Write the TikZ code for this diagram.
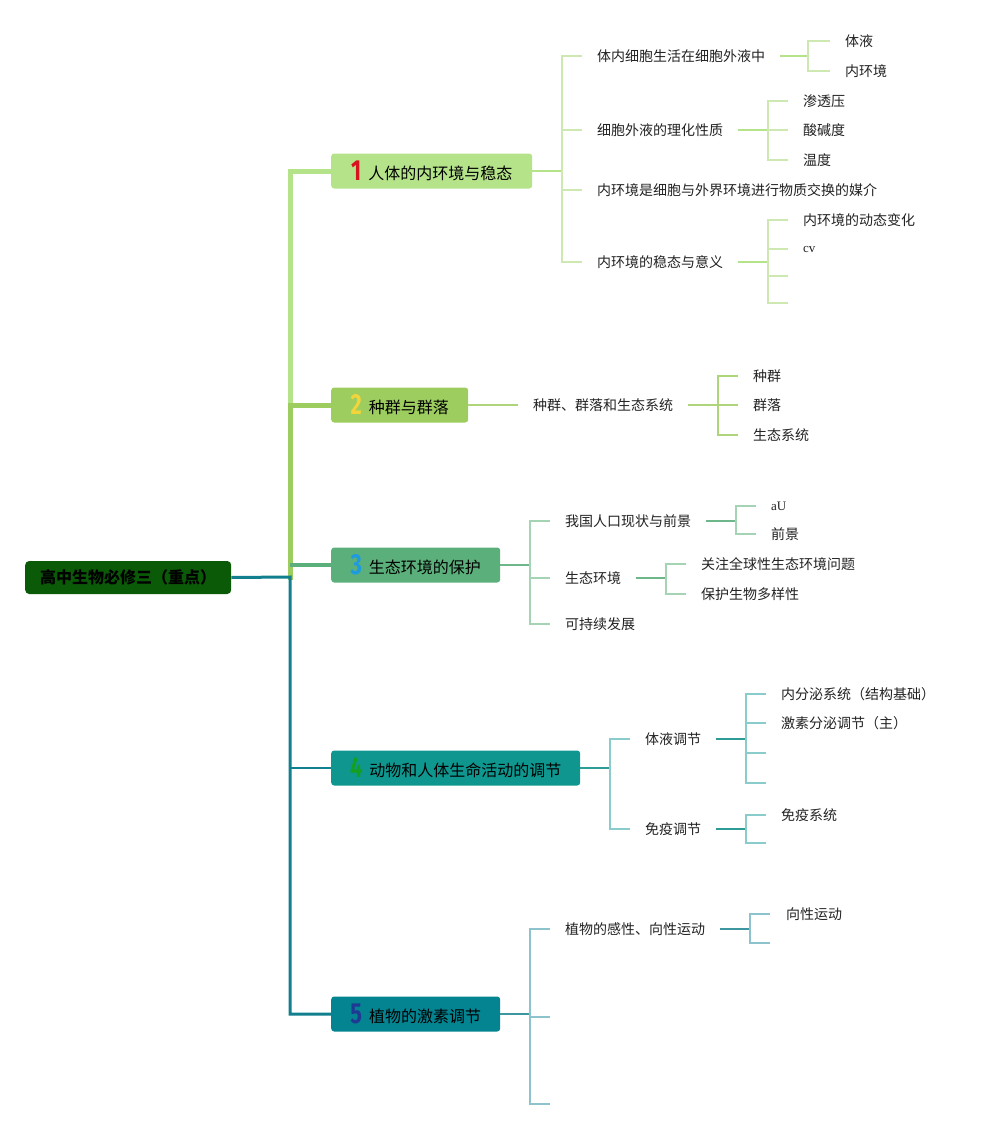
\documentclass[tikz,border=0pt]{standalone}
\usepackage{fontspec}
\setmainfont{Noto Sans CJK SC}
\newfontfamily\lser{Liberation Serif}
\newfontfamily\numfam{Fira Sans}
\definecolor{rootg}{HTML}{0B5A08}
\definecolor{ga}{HTML}{B5E389}
\definecolor{gal}{HTML}{CDE8B0}
\definecolor{gb}{HTML}{9DCC5F}
\definecolor{gbl}{HTML}{AED57A}
\definecolor{gc}{HTML}{5BAF7A}
\definecolor{gcl}{HTML}{A5D4B5}
\definecolor{gcd}{HTML}{6DB78A}
\definecolor{gd}{HTML}{0F978F}
\definecolor{gdl}{HTML}{8ACBCB}
\definecolor{gdd}{HTML}{2E9C96}
\definecolor{ge}{HTML}{048391}
\definecolor{gel}{HTML}{8CC3CC}
\definecolor{ged}{HTML}{3E97A0}
\definecolor{trunkt}{HTML}{117F8E}
\definecolor{n1}{HTML}{D7141E}
\definecolor{n2}{HTML}{F2D43B}
\definecolor{n3}{HTML}{1E9BE0}
\definecolor{n4}{HTML}{14A01E}
\definecolor{n5}{HTML}{1F3A93}
\definecolor{txt}{HTML}{222222}
\newcommand\bnum[2]{\raisebox{-1pt}{\scalebox{0.75}[1]{\numfam\bfseries\fontsize{29}{29}\selectfont\color{#1}#2}}\hspace{7pt}}
\begin{document}
\begin{tikzpicture}[x=1pt,y=-1pt,
  rootbox/.style={anchor=west, fill=rootg, rounded corners=4pt, minimum height=33pt, minimum width=206pt, inner sep=0pt, font=\fontsize{16}{18}\selectfont\bfseries, text=black},
  mainbox/.style={anchor=west, rounded corners=3pt, minimum height=35pt, inner sep=0pt, font=\fontsize{16}{18}\selectfont, text=black},
  ctext/.style={anchor=west, inner sep=0pt, font=\fontsize{14}{16}\selectfont, text=txt},
  stext/.style={anchor=west, inner sep=0pt, font=\lser\fontsize{13}{15}\selectfont, text=txt},
  la/.style={draw=gal, line width=1.5pt},
  lad/.style={draw=ga, line width=2pt},
  lb/.style={draw=gbl, line width=1.5pt},
  lc/.style={draw=gcl, line width=1.5pt},
  lcd/.style={draw=gcd, line width=2pt},
  ld/.style={draw=gdl, line width=1.5pt},
  ldd/.style={draw=gdd, line width=2pt},
  le/.style={draw=gel, line width=1.5pt},
  led/.style={draw=ged, line width=2pt}
]
\useasboundingbox (0,0) rectangle (995,1129);

% root and main boxes
\node[rootbox] (root) at (25,577.5) {高中生物必修三（重点）};
\node[mainbox, fill=ga, minimum width=201pt] (b1) at (331,171) {\bnum{n1}{1}人体的内环境与稳态};
\node[mainbox, fill=gb, minimum width=137pt] (b2) at (331,405) {\bnum{n2}{2}种群与群落};
\node[mainbox, fill=gc, minimum width=169pt] (b3) at (331,565) {\bnum{n3}{3}生态环境的保护};
\node[mainbox, fill=gd, minimum width=249pt] (b4) at (331,768) {\bnum{n4}{4}动物和人体生命活动的调节};
\node[mainbox, fill=ge, minimum width=169pt] (b5) at (331,1014) {\bnum{n5}{5}植物的激素调节};

% trunk
\coordinate (j1) at (290,171);
\coordinate (j2) at (290,405);
\coordinate (j3) at (290,565);
\coordinate (j0) at (290,577);
\coordinate (j4) at (290,768);
\coordinate (j5) at (290,1014);
\draw[draw=ga, line width=5pt] (b1.west) -- (j1) -- (j2);
\draw[draw=gb, line width=5pt] (b2.west) -- (j2) -- ([yshift=-3pt]j0);
\draw[draw=gc, line width=3.5pt] (b3.west) -- (j3);
\draw[draw=trunkt, line width=3pt] (root.east) -- (j0) -- (j5) -- (b5.west);
\draw[draw=trunkt, line width=2.5pt] (j4) -- (b4.west);

% ---------- branch 1
\node[ctext] (c11) at (597,56) {体内细胞生活在细胞外液中};
\node[ctext] (c12) at (597,130) {细胞外液的理化性质};
\node[ctext] (c13) at (597,190) {内环境是细胞与外界环境进行物质交换的媒介};
\node[ctext] (c14) at (597,262) {内环境的稳态与意义};
\coordinate (v1) at (562,171);
\draw[lad] (b1.east) -- (v1);
\foreach \c in {c11,c12,c13,c14} \draw[la] (v1) |- ([xshift=-15pt]\c.west);

\node[ctext] (d111) at (845,41) {体液};
\node[ctext] (d112) at (845,71) {内环境};
\coordinate (v11) at (808,56);
\draw[lad] ([xshift=15pt]c11.east) -- (v11);
\foreach \c in {d111,d112} \draw[la] (v11) |- ([xshift=-15pt]\c.west);

\node[ctext] (d121) at (803,101) {渗透压};
\node[ctext] (d122) at (803,130) {酸碱度};
\node[ctext] (d123) at (803,160) {温度};
\coordinate (v12) at (768,130);
\draw[lad] ([xshift=15pt]c12.east) -- (v12);
\foreach \c in {d121,d122,d123} \draw[la] (v12) |- ([xshift=-15pt]\c.west);

\node[ctext] (d141) at (803,220) {内环境的动态变化};
\node[stext] (d142) at (803,249) {cv};
\coordinate (e143) at (788,276);
\coordinate (e144) at (788,303);
\coordinate (v14) at (768,262);
\draw[lad] ([xshift=15pt]c14.east) -- (v14);
\foreach \c in {d141,d142} \draw[la] (v14) |- ([xshift=-15pt]\c.west);
\foreach \c in {e143,e144} \draw[la] (v14) |- (\c);

% ---------- branch 2
\node[ctext] (c21) at (533,405) {种群、群落和生态系统};
\draw[lb] (b2.east) -- ([xshift=-15pt]c21.west);
\node[ctext] (d211) at (753,376) {种群};
\node[ctext] (d212) at (753,405) {群落};
\node[ctext] (d213) at (753,435) {生态系统};
\coordinate (v21) at (718,405);
\draw[lb] ([xshift=15pt]c21.east) -- (v21);
\foreach \c in {d211,d212,d213} \draw[lb] (v21) |- ([xshift=-15pt]\c.west);

% ---------- branch 3
\node[ctext] (c31) at (565,521) {我国人口现状与前景};
\node[ctext] (c32) at (565,578) {生态环境};
\node[ctext] (c33) at (565,624) {可持续发展};
\coordinate (v3) at (530,565);
\draw[lcd] (b3.east) -- (v3);
\foreach \c in {c31,c32,c33} \draw[lc] (v3) |- ([xshift=-15pt]\c.west);

\node[stext] (d311) at (771,506) {aU};
\node[ctext] (d312) at (771,534) {前景};
\coordinate (v31) at (736,521);
\draw[lcd] ([xshift=15pt]c31.east) -- (v31);
\foreach \c in {d311,d312} \draw[lc] (v31) |- ([xshift=-15pt]\c.west);

\node[ctext] (d321) at (701,564) {关注全球性生态环境问题};
\node[ctext] (d322) at (701,594) {保护生物多样性};
\coordinate (v32) at (666,578);
\draw[lcd] ([xshift=15pt]c32.east) -- (v32);
\foreach \c in {d321,d322} \draw[lc] (v32) |- ([xshift=-15pt]\c.west);

% ---------- branch 4
\node[ctext] (c41) at (645,739) {体液调节};
\node[ctext] (c42) at (645,829) {免疫调节};
\coordinate (v4) at (610,768);
\draw[ldd] (b4.east) -- (v4);
\foreach \c in {c41,c42} \draw[ld] (v4) |- ([xshift=-15pt]\c.west);

\node[ctext] (d411) at (781,694) {内分泌系统（结构基础）};
\node[ctext] (d412) at (781,723) {激素分泌调节（主）};
\coordinate (e413) at (766,753);
\coordinate (e414) at (766,783);
\coordinate (v41) at (746,739);
\draw[ldd] ([xshift=15pt]c41.east) -- (v41);
\foreach \c in {d411,d412} \draw[ld] (v41) |- ([xshift=-15pt]\c.west);
\foreach \c in {e413,e414} \draw[ld] (v41) |- (\c);

\node[ctext] (d421) at (781,815) {免疫系统};
\coordinate (e422) at (766,843);
\coordinate (v42) at (746,829);
\draw[ldd] ([xshift=15pt]c42.east) -- (v42);
\draw[ld] (v42) |- ([xshift=-15pt]d421.west);
\draw[ld] (v42) |- (e422);

% ---------- branch 5
\node[ctext] (c51) at (565,929) {植物的感性、向性运动};
\coordinate (e52) at (550,1017);
\coordinate (e53) at (550,1104);
\coordinate (v5) at (530,1014);
\draw[led] (b5.east) -- (v5);
\draw[le] (v5) |- ([xshift=-15pt]c51.west);
\foreach \c in {e52,e53} \draw[le] (v5) |- (\c);

\node[ctext] (d511) at (786,914) {向性运动};
\coordinate (e512) at (770,943);
\coordinate (v51) at (750,929);
\draw[led] ([xshift=15pt]c51.east) -- (v51);
\draw[le] (v51) |- ([xshift=-16pt]d511.west);
\draw[le] (v51) |- (e512);
\end{tikzpicture}
\end{document}
